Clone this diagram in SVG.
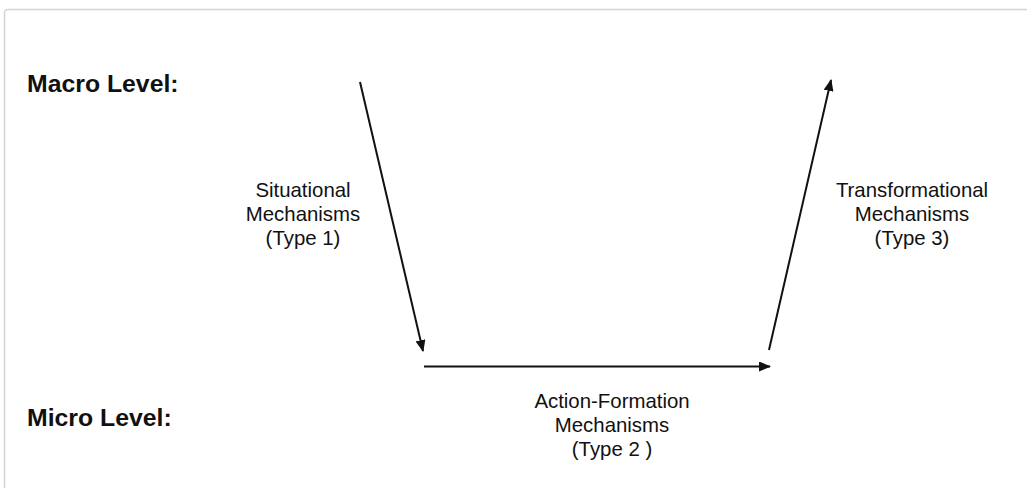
<svg xmlns="http://www.w3.org/2000/svg" width="1027" height="488" viewBox="0 0 1027 488">
  <style>
    .lvl { font-family: "Liberation Sans", Arial, sans-serif; font-weight: bold; font-size: 24.8px; fill: #111; }
    .lbl { font-family: "Liberation Sans", Arial, sans-serif; font-size: 20.4px; fill: #111; text-anchor: middle; }
    .conn { stroke: #111; stroke-width: 2; fill: none; marker-end: url(#ah); }
  </style>
  <defs>
    <marker id="ah" viewBox="0 0 12 10" refX="11" refY="5" markerWidth="12" markerHeight="10" markerUnits="userSpaceOnUse" orient="auto">
      <path d="M0,0 L12,5 L0,10 Z" fill="#111"/>
    </marker>
  </defs>
  <rect width="1027" height="488" fill="#fff"/>
  <path d="M4.5,488 L4.5,13 Q4.5,9.5 8,9.5 L1027,9.5" stroke="#d4d4d4" stroke-width="1.5" fill="none"/>
  <g id="macro-level"><text class="lvl" x="27" y="92">Macro Level:</text></g>
  <g id="micro-level"><text class="lvl" x="27" y="426">Micro Level:</text></g>
  <g id="situational">
    <text class="lbl" x="303" y="197">Situational</text>
    <text class="lbl" x="303" y="221">Mechanisms</text>
    <text class="lbl" x="303" y="245">(Type 1)</text>
  </g>
  <g id="transformational">
    <text class="lbl" x="912" y="197">Transformational</text>
    <text class="lbl" x="912" y="221">Mechanisms</text>
    <text class="lbl" x="912" y="245">(Type 3)</text>
  </g>
  <g id="action-formation">
    <text class="lbl" x="612" y="408">Action-Formation</text>
    <text class="lbl" x="612" y="432">Mechanisms</text>
    <text class="lbl" x="612" y="456">(Type 2 )</text>
  </g>
  <g id="connectors">
    <line class="conn" x1="360" y1="82" x2="423" y2="351"/>
    <line class="conn" x1="424" y1="366.5" x2="770" y2="366.5"/>
    <line class="conn" x1="769" y1="350" x2="831" y2="80"/>
  </g>
</svg>
